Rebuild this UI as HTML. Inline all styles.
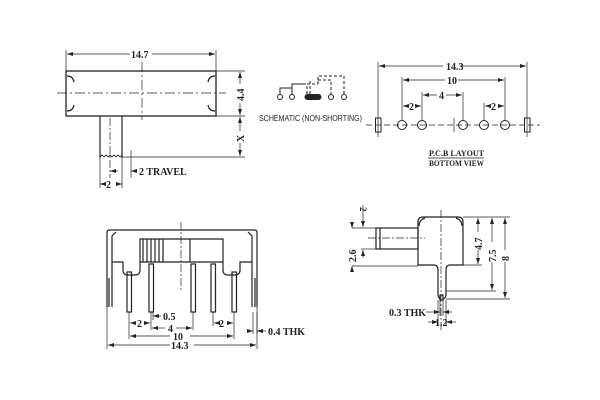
<!DOCTYPE html>
<html><head><meta charset="utf-8"><style>
html,body{margin:0;padding:0;background:#fff;}
svg{display:block;}
text{font-family:"Liberation Serif",serif;font-weight:bold;fill:#222;}
.s{font-family:"Liberation Sans",sans-serif;font-weight:normal;}
</style></head><body>
<svg width="600" height="400" viewBox="0 0 600 400" xmlns="http://www.w3.org/2000/svg" fill="none" stroke="#222" stroke-width="1">
<defs>
<marker id="a" markerWidth="6" markerHeight="6" refX="6" refY="3" orient="auto-start-reverse" markerUnits="userSpaceOnUse"><path d="M0,1 L6,3 L0,5 z" fill="#222" stroke="none"/></marker>
</defs>
<!-- TOP LEFT -->
<line x1="66" y1="50" x2="66" y2="72" stroke-width=".7"/>
<line x1="216" y1="50" x2="216" y2="72" stroke-width=".7"/>
<line x1="67" y1="54" x2="130" y2="54" marker-start="url(#a)" stroke-width=".7"/>
<line x1="152" y1="54" x2="215" y2="54" marker-end="url(#a)" stroke-width=".7"/>
<text x="131" y="58" font-size="10" stroke="none">14.7</text>
<rect x="66" y="71" width="150" height="45" stroke-width="1.3"/>
<path d="M67,76 q6,0 7,6 M67,111 q6,0 7,-6 M215,76 q-6,0 -7,6 M215,111 q-6,0 -7,-6" stroke-width="1.2"/>
<line x1="57" y1="93" x2="226" y2="93" stroke-dasharray="10,3,2,3" stroke-width=".7"/>
<line x1="142" y1="62" x2="142" y2="120" stroke-dasharray="10,3,2,3" stroke-width=".7"/>
<line x1="216" y1="71" x2="245" y2="71" stroke-width=".7"/>
<line x1="216" y1="116" x2="245" y2="116" stroke-width=".7"/>
<line x1="122" y1="157" x2="245" y2="157" stroke-width=".7"/>
<line x1="240" y1="72" x2="240" y2="84" marker-start="url(#a)" stroke-width=".7"/>
<line x1="240" y1="103" x2="240" y2="115" marker-end="url(#a)" stroke-width=".7"/>
<text x="0" y="0" font-size="10" stroke="none" transform="translate(244,101) rotate(-90)">4.4</text>
<line x1="240" y1="117" x2="240" y2="131" marker-start="url(#a)" stroke-width=".7"/>
<line x1="240" y1="143" x2="240" y2="156" marker-end="url(#a)" stroke-width=".7"/>
<text x="0" y="0" font-size="10" stroke="none" transform="translate(244,142) rotate(-90)">X</text>
<path d="M100,116 V158 M122,116 V158" stroke-width="1.2"/>
<path d="M100,157 l2,-2 l2,2 l2,-2 l2,2 l2,-2 l2,2 l2,-2 l2,2 l2,-2 l2,2 l2,-2" stroke-width=".8"/>
<line x1="110" y1="118" x2="110" y2="178" stroke-dasharray="8,2,2,2" stroke-width=".7"/>
<line x1="131" y1="150" x2="131" y2="178" stroke-width=".7"/>
<line x1="100" y1="158" x2="100" y2="188" stroke-width=".7"/>
<line x1="122" y1="158" x2="122" y2="188" stroke-width=".7"/>
<line x1="118" y1="171" x2="110" y2="171" marker-end="url(#a)" stroke-width=".7"/>
<line x1="137" y1="171" x2="131" y2="171" marker-end="url(#a)" stroke-width=".7"/>
<text x="139" y="175" font-size="10" stroke="none">2 TRAVEL</text>
<line x1="104" y1="184" x2="100" y2="184" marker-end="url(#a)" stroke-width=".7"/>
<line x1="118" y1="184" x2="122" y2="184" marker-end="url(#a)" stroke-width=".7"/>
<text x="106" y="188" font-size="10" stroke="none">2</text>
<!-- SCHEMATIC -->
<g stroke-width="1">
<circle cx="280" cy="97" r="2.5"/><circle cx="292" cy="97" r="2.5"/><circle cx="331" cy="97" r="2.5"/><circle cx="344" cy="97" r="2.5"/>
<rect x="305" y="94.5" width="16" height="5" rx="2.5" fill="#222"/>
<path d="M280,94 V88 H292 M292,94 V84 H306"/>
<path d="M307,94 V84 H318 M318,84 V80 M318,80 H331 V94" stroke-dasharray="3,2"/>
<path d="M310,94 V80 M318,80 V76 H344 V94" stroke-dasharray="3,2"/>
</g>
<text class="s" x="259" y="121" font-size="8.5" stroke="none" textLength="103" lengthAdjust="spacingAndGlyphs">SCHEMATIC (NON-SHORTING)</text>
<!-- PCB -->
<g stroke-width=".7">
<line x1="378" y1="62" x2="378" y2="137"/><line x1="527" y1="62" x2="527" y2="137"/>
<line x1="379" y1="66" x2="443" y2="66" marker-start="url(#a)"/><line x1="460" y1="66" x2="526" y2="66" marker-end="url(#a)"/>
<line x1="402" y1="77" x2="402" y2="120"/><line x1="505" y1="77" x2="505" y2="120"/>
<line x1="403" y1="80" x2="445" y2="80" marker-start="url(#a)"/><line x1="458" y1="80" x2="504" y2="80" marker-end="url(#a)"/>
<line x1="422" y1="92" x2="422" y2="120"/><line x1="463" y1="92" x2="463" y2="120"/>
<line x1="423" y1="95" x2="437" y2="95" marker-start="url(#a)"/><line x1="446" y1="95" x2="462" y2="95" marker-end="url(#a)"/>
<line x1="484" y1="103" x2="484" y2="120"/>
<line x1="403" y1="106" x2="407" y2="106" marker-start="url(#a)"/><line x1="417" y1="106" x2="421" y2="106" marker-end="url(#a)"/>
<line x1="485" y1="106" x2="489" y2="106" marker-start="url(#a)"/><line x1="499" y1="106" x2="504" y2="106" marker-end="url(#a)"/>
<line x1="366" y1="125" x2="540" y2="125" stroke-dasharray="6,3"/>
<line x1="454" y1="118" x2="454" y2="132"/>
</g>
<text x="446" y="70" font-size="10" stroke="none">14.3</text>
<text x="447" y="84" font-size="10" stroke="none">10</text>
<text x="439" y="99" font-size="10" stroke="none">4</text>
<text x="409" y="110" font-size="10" stroke="none">2</text>
<text x="491" y="110" font-size="10" stroke="none">2</text>
<rect x="375.5" y="118" width="5.5" height="14" stroke-width="1"/>
<rect x="524.5" y="118" width="5.5" height="14" stroke-width="1"/>
<g stroke-width="1"><circle cx="402" cy="125" r="4.5"/><circle cx="422" cy="125" r="4.5"/><circle cx="463" cy="125" r="4.5"/><circle cx="484" cy="125" r="4.5"/><circle cx="505" cy="125" r="4.5"/></g>
<text x="429" y="156" font-size="8.5" stroke="none" textLength="55" lengthAdjust="spacingAndGlyphs">P.C.B LAYOUT</text>
<line x1="428" y1="158" x2="484" y2="158" stroke-width=".8"/>
<text x="429" y="166" font-size="8.5" stroke="none" textLength="55" lengthAdjust="spacingAndGlyphs">BOTTOM VIEW</text>
<!-- BOTTOM LEFT -->
<g stroke-width="1.2">
<path d="M107,307 V232 Q107,230 110,230 H254 Q257,230 257,232 V307"/>
<path d="M112,307 V236 l4,-4 M252,307 V236 l-4,-4"/>
<path d="M112,262 H123 V270 Q123,275 128,275 H135 Q140,275 140,270 V262 M223,262 V270 Q223,275 228,275 H235 Q240,275 240,270 V262 H252"/>
<path d="M140,262 H223"/>
<path d="M140,262 V239 H223 V262 M190,239 V262"/>
<path d="M143,239 V262 M147,239 V262 M151,239 V262 M155,239 V262 M159,239 V262 M163,239 V262"/>
<rect x="127" y="272" width="4.5" height="40"/>
<rect x="149" y="264" width="4.5" height="48"/>
<rect x="191" y="264" width="4.5" height="48"/>
<rect x="211" y="264" width="4.5" height="48"/>
<rect x="232" y="272" width="4.5" height="40"/>
</g>
<rect x="106" y="278" width="4" height="29" fill="#777" stroke="none"/>
<rect x="254" y="278" width="4" height="29" fill="#777" stroke="none"/>
<line x1="181" y1="222" x2="181" y2="290" stroke-dasharray="8,2,2,2" stroke-width=".7"/>
<g stroke-width=".7">
<line x1="107" y1="307" x2="107" y2="349"/><line x1="257" y1="307" x2="257" y2="349"/>
<line x1="129" y1="312" x2="129" y2="339"/><line x1="234" y1="312" x2="234" y2="339"/>
<line x1="151" y1="312" x2="151" y2="330"/><line x1="193" y1="312" x2="193" y2="330"/>
<line x1="213" y1="312" x2="213" y2="326"/><line x1="153" y1="312" x2="153" y2="320"/>
<line x1="253" y1="312" x2="253" y2="334"/><line x1="257" y1="312" x2="257" y2="334"/>
<line x1="108" y1="345" x2="170" y2="345" marker-start="url(#a)"/><line x1="194" y1="345" x2="256" y2="345" marker-end="url(#a)"/>
<line x1="130" y1="336" x2="170" y2="336" marker-start="url(#a)"/><line x1="190" y1="336" x2="233" y2="336" marker-end="url(#a)"/>
<line x1="152" y1="328" x2="165" y2="328" marker-start="url(#a)"/><line x1="176" y1="328" x2="192" y2="328" marker-end="url(#a)"/>
<line x1="130" y1="323" x2="136" y2="323" marker-start="url(#a)"/><line x1="144" y1="323" x2="150" y2="323" marker-end="url(#a)"/>
<line x1="214" y1="323" x2="218" y2="323" marker-start="url(#a)"/><line x1="228" y1="323" x2="233" y2="323" marker-end="url(#a)"/>
<line x1="161" y1="316" x2="153" y2="316" marker-end="url(#a)"/>
<line x1="247" y1="331" x2="253" y2="331" marker-end="url(#a)"/><line x1="266" y1="331" x2="257" y2="331" marker-end="url(#a)"/>
</g>
<text x="163" y="320" font-size="10" stroke="none">0.5</text>
<text x="137" y="327" font-size="10" stroke="none">2</text>
<text x="219" y="327" font-size="10" stroke="none">2</text>
<text x="168" y="332" font-size="10" stroke="none">4</text>
<text x="173" y="340" font-size="10" stroke="none">10</text>
<text x="171" y="349" font-size="10" stroke="none">14.3</text>
<text x="268" y="335" font-size="10" stroke="none">0.4  THK</text>
<!-- BOTTOM RIGHT -->
<g stroke-width="1.2">
<path d="M418,265 V222 Q418,217 423,217 H458 Q463,217 463,222 V265 H450 Q446,265 446,270 V294 Q446,299 442,299 Q438,299 438,294 V270 Q438,265 434,265 Z"/>
<path d="M419,226 q0,-6 6,-8 M462,226 q0,-6 -6,-8"/>
<rect x="376" y="228" width="42" height="21"/>
<line x1="380" y1="228" x2="380" y2="249"/>
<rect x="440" y="295" width="3" height="5" fill="#fff"/>
</g>
<line x1="368" y1="238" x2="425" y2="238" stroke-dasharray="8,2,2,2" stroke-width=".7"/>
<line x1="441" y1="210" x2="441" y2="330" stroke-dasharray="8,2,2,2" stroke-width=".7"/>
<g stroke-width=".7">
<line x1="463" y1="217" x2="510" y2="217"/><line x1="463" y1="265" x2="482" y2="265"/>
<line x1="446" y1="291" x2="496" y2="291"/><line x1="446" y1="299" x2="510" y2="299"/>
<line x1="478" y1="218" x2="478" y2="232" marker-start="url(#a)"/><line x1="478" y1="250" x2="478" y2="264" marker-end="url(#a)"/>
<line x1="492" y1="218" x2="492" y2="242" marker-start="url(#a)"/><line x1="492" y1="262" x2="492" y2="290" marker-end="url(#a)"/>
<line x1="505" y1="218" x2="505" y2="250" marker-start="url(#a)"/><line x1="505" y1="262" x2="505" y2="298" marker-end="url(#a)"/>
<line x1="352" y1="228" x2="376" y2="228"/><line x1="352" y1="266" x2="418" y2="266"/>
<line x1="361" y1="249" x2="376" y2="249"/>
<line x1="352" y1="222" x2="352" y2="228" marker-end="url(#a)"/><line x1="352" y1="272" x2="352" y2="266" marker-end="url(#a)"/>
<line x1="363" y1="205" x2="363" y2="227" marker-end="url(#a)"/><line x1="363" y1="258" x2="363" y2="250" marker-end="url(#a)"/>
<line x1="438" y1="300" x2="438" y2="326"/><line x1="446" y1="300" x2="446" y2="326"/>
<line x1="440" y1="300" x2="440" y2="316"/><line x1="443" y1="300" x2="443" y2="316"/>
<line x1="426" y1="312" x2="440" y2="312" marker-end="url(#a)"/><line x1="452" y1="312" x2="443" y2="312" marker-end="url(#a)"/>
<line x1="428" y1="322" x2="438" y2="322" marker-end="url(#a)"/><line x1="456" y1="322" x2="446" y2="322" marker-end="url(#a)"/>
</g>
<text x="0" y="0" font-size="10" stroke="none" transform="translate(482,250) rotate(-90)">4.7</text>
<text x="0" y="0" font-size="10" stroke="none" transform="translate(496,262) rotate(-90)">7.5</text>
<text x="0" y="0" font-size="10" stroke="none" transform="translate(509,261) rotate(-90)">8</text>
<text x="0" y="0" font-size="10" stroke="none" transform="translate(356,262) rotate(-90)">2.6</text>
<text x="0" y="0" font-size="9" stroke="none" transform="translate(360,207) rotate(90)">2</text>
<text x="389" y="316" font-size="10" stroke="none">0.3  THK</text>
<text x="435" y="326" font-size="10" stroke="none">1.2</text>
</svg>
</body></html>
